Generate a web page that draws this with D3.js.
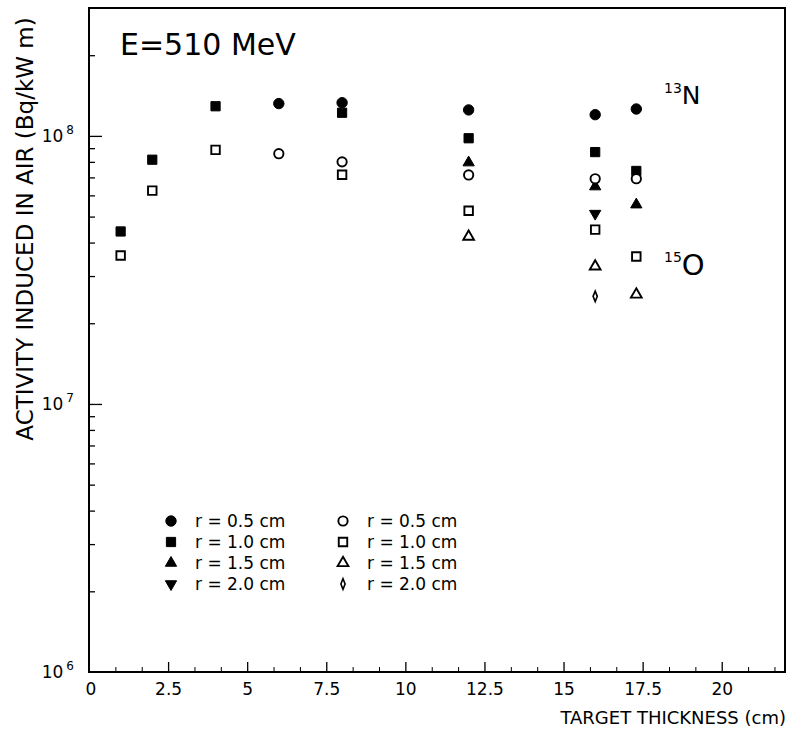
<!DOCTYPE html>
<html>
<head>
<meta charset="utf-8">
<script src="https://cdn.jsdelivr.net/npm/d3@7"></script>
<style>
  body { margin: 0; background: #fff; }
  svg text { font-family: "DejaVu Sans", sans-serif; fill: #000; }
</style>
</head>
<body>
<div id="chart"></div>
<script>
// target thickness (cm)
const thickness = [1, 2, 4, 6, 8, 12, 16, 17.3];

// 13N (filled symbols), activity in Bq/kW m
const n13_r05 = [null, null, null, 1.32e8, 1.33e8, 1.25e8, 1.20e8, 1.26e8];
const n13_r10 = [4.4e7, 8.15e7, 1.29e8, null, 1.22e8, 9.8e7, 8.7e7, 7.4e7];
const n13_r15 = [null, null, null, null, null, 7.95e7, 6.47e7, 5.54e7];
const n13_r20 = [null, null, null, null, null, null, 5.13e7, null];

// 15O (open symbols)
const o15_r05 = [null, null, null, 8.58e7, 8.0e7, 7.15e7, 6.92e7, 6.92e7];
const o15_r10 = [3.58e7, 6.25e7, 8.87e7, null, 7.16e7, 5.26e7, 4.47e7, 3.55e7];
const o15_r15 = [null, null, null, null, null, 4.21e7, 3.26e7, 2.56e7];
const o15_r20 = [null, null, null, null, null, null, 2.52e7, null];

const radiusLabels = ["r = 0.5 cm", "r = 1.0 cm", "r = 1.5 cm", "r = 2.0 cm"];
const xTickValues = [0, 2.5, 5, 7.5, 10, 12.5, 15, 17.5, 20];
const yMajorTicks = [1e6, 1e7, 1e8];

const width = 791;
const height = 734;
const margin = { top: 8, right: 6, bottom: 62, left: 89 };

const svg = d3.select("#chart")
    .append("svg")
    .attr("width", width)
    .attr("height", height);

const x = d3.scaleLinear()
    .domain([0, 22])
    .range([margin.left, width - margin.right]);

const y = d3.scaleLog()
    .domain([1e6, 3e8])
    .range([height - margin.bottom, margin.top]);

const bottom = height - margin.bottom;

// minor ticks
const xMinor = d3.range(0, 22.01, 2.5 / 3).filter(v => v > 0.1 && Math.abs(v / 2.5 - Math.round(v / 2.5)) > 0.01);
const yMinor = [];
[1e6, 1e7, 1e8].forEach(d => { for (let k = 2; k <= 9; k++) if (d * k < 3e8) yMinor.push(d * k); });

svg.append("g")
    .attr("transform", `translate(0,${bottom})`)
    .call(d3.axisBottom(x).tickValues(xMinor).tickSize(-5).tickFormat(""))
    .call(g => g.select(".domain").remove());

svg.append("g")
    .attr("class", "xaxis")
    .attr("transform", `translate(0,${bottom})`)
    .call(d3.axisBottom(x).tickValues(xTickValues.filter(v => v > 0)).tickSize(-10).tickPadding(11)
        .tickFormat(d => String(d)))
    .call(g => g.select(".domain").remove());

// the "0" label sits at the corner
svg.append("text")
    .attr("x", x(0) + 2)
    .attr("y", bottom + 23)
    .attr("text-anchor", "middle")
    .style("font-size", "17px")
    .text("0");

svg.selectAll(".xaxis text").style("font-size", "17px").style("font-family", "DejaVu Sans");
svg.selectAll(".xaxis line").attr("stroke-width", 1.3);

svg.append("g")
    .attr("transform", `translate(${margin.left},0)`)
    .call(d3.axisLeft(y).tickValues(yMinor).tickSize(-6).tickFormat(""))
    .call(g => g.select(".domain").remove())
    .selectAll("line").attr("stroke-width", 1.3);

svg.append("g")
    .attr("transform", `translate(${margin.left},0)`)
    .call(d3.axisLeft(y).tickValues(yMajorTicks.slice(1)).tickSize(-13).tickFormat(""))
    .call(g => g.select(".domain").remove())
    .selectAll("line").attr("stroke-width", 1.3);

// y labels 10^n
const yLab = svg.selectAll(".ylab")
    .data(yMajorTicks)
    .enter()
    .append("text")
    .attr("class", "ylab")
    .attr("x", margin.left - 15)
    .attr("y", d => y(d) + 6)
    .attr("text-anchor", "end")
    .style("font-size", "17px");
yLab.append("tspan").text("10");
yLab.append("tspan")
    .attr("dx", 3)
    .attr("dy", -8)
    .style("font-size", "12px")
    .text(d => Math.round(Math.log10(d)));

// frame
svg.append("rect")
    .attr("x", margin.left)
    .attr("y", margin.top)
    .attr("width", width - margin.right - margin.left)
    .attr("height", bottom - margin.top)
    .attr("fill", "none")
    .attr("stroke", "#000")
    .attr("stroke-width", 2);

// axis titles
svg.append("text")
    .attr("x", width - 5)
    .attr("y", 724)
    .attr("text-anchor", "end")
    .style("font-size", "18px")
    .text("TARGET THICKNESS (cm)");

svg.append("text")
    .attr("transform", "translate(33,229) rotate(-90)")
    .attr("text-anchor", "middle")
    .style("font-size", "23px")
    .text("ACTIVITY INDUCED IN AIR (Bq/kW m)");

svg.append("text")
    .attr("x", 120)
    .attr("y", 55)
    .style("font-size", "30px")
    .text("E=510 MeV");

// isotope labels
const n13 = svg.append("text").attr("x", 664).attr("y", 104);
n13.append("tspan").attr("dy", -11).style("font-size", "14px").text("13");
n13.append("tspan").attr("dy", 11).style("font-size", "25px").text("N");

const o15 = svg.append("text").attr("x", 664).attr("y", 275);
o15.append("tspan").attr("dy", -13).style("font-size", "14px").text("15");
o15.append("tspan").attr("dy", 13).style("font-size", "29px").text("O");

// symbols
const symbolDefs = [
    { values: n13_r05, type: d3.symbolCircle, size: 85, filled: true, rot: 0 },
    { values: n13_r10, type: d3.symbolSquare, size: 85, filled: true, rot: 0 },
    { values: n13_r15, type: d3.symbolTriangle, size: 55, filled: true, rot: 0 },
    { values: n13_r20, type: d3.symbolTriangle, size: 55, filled: true, rot: 180 },
    { values: o15_r05, type: d3.symbolCircle, size: 68, filled: false, rot: 0 },
    { values: o15_r10, type: d3.symbolSquare, size: 72, filled: false, rot: 0 },
    { values: o15_r15, type: d3.symbolTriangle, size: 50, filled: false, rot: 0 },
    { values: o15_r20, type: d3.symbolDiamond, size: 24, filled: false, rot: 0 }
];

function drawSymbol(g, def, cx, cy) {
    const path = g.append("path")
        .attr("d", d3.symbol().type(def.type).size(def.size)())
        .attr("transform", `translate(${cx},${cy}) rotate(${def.rot})` + (def.type === d3.symbolDiamond ? " scale(0.8,1.15)" : ""))
        .attr("fill", def.filled ? "#000" : "#fff")
        .attr("stroke", "#000")
        .attr("stroke-width", def.filled ? 1 : 1.9);
    return path;
}

const marks = svg.append("g");
symbolDefs.forEach(def => {
    def.values.forEach((v, i) => {
        if (v === null) return;
        drawSymbol(marks, def, x(thickness[i]), y(v));
    });
});

// legend
const legendRows = [521, 542, 563, 584];
const legend = svg.append("g");
symbolDefs.forEach((def, i) => {
    const col = i < 4 ? 0 : 1;
    const row = i % 4;
    const sx = col === 0 ? 171 : 343;
    drawSymbol(legend, def, sx, legendRows[row]);
    legend.append("text")
        .attr("x", sx + 24)
        .attr("y", legendRows[row] + 6)
        .style("font-size", "17px")
        .text(radiusLabels[row]);
});
</script>
</body>
</html>
